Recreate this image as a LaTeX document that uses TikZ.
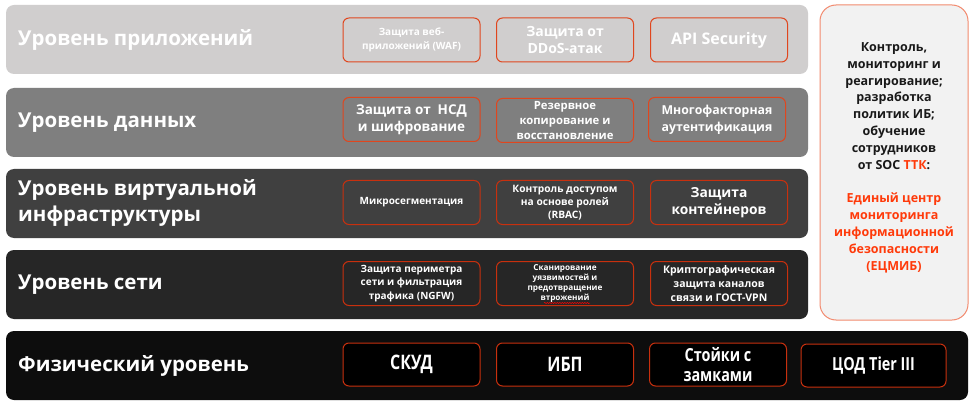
\documentclass[tikz,border=0pt]{standalone}
\usepackage{fontspec}
\setmainfont{Open Sans}
\newfontfamily\condfont{Open Sans}[FakeStretch=0.8]
\usetikzlibrary{decorations.pathmorphing}
\definecolor{bandA}{HTML}{D0CECE}
\definecolor{bandB}{HTML}{7F7F7F}
\definecolor{bandC}{HTML}{404040}
\definecolor{bandD}{HTML}{262626}
\definecolor{bandE}{HTML}{0D0D0D}
\definecolor{boxline}{HTML}{E0461E}
\definecolor{boxlineD}{HTML}{C8300E}
\definecolor{panelfill}{HTML}{F2F2F2}
\definecolor{panelline}{HTML}{F28A6E}
\definecolor{accent}{HTML}{FF3A0A}
\newcommand{\fs}[2]{\fontsize{#1}{#2}\selectfont\bfseries}
\tikzset{
  band/.style={rounded corners=8pt, inner sep=0pt, draw=none},
  title/.style={anchor=west, text=white, align=left, inner sep=0pt, font=\fs{20.5}{26}},
  sbox/.style={draw=boxline, line width=1pt, rounded corners=6pt, text=white, align=center,
    inner sep=0pt, minimum width=137pt, minimum height=44pt},
  dbox/.style={sbox, draw=boxlineD},
}
\begin{document}
\begin{tikzpicture}[x=1pt,y=-1pt]
\useasboundingbox (0,0) rectangle (974,406);
\fill[white] (0,0) rectangle (974,406);
% bands
\node[band, fill=bandA, minimum width=802pt, minimum height=69pt] (b1) at (407,39.5) {};
\node[band, fill=bandB, minimum width=802pt, minimum height=69pt] (b2) at (407,122.5) {};
\node[band, fill=bandC, minimum width=802pt, minimum height=69pt] (b3) at (407,203.5) {};
\node[band, fill=bandD, minimum width=802pt, minimum height=69pt] (b4) at (407,284.5) {};
\node[band, fill=bandE, minimum width=962pt, minimum height=69pt] (b5) at (487,365.5) {};
% titles
\node[title] (t1) at (18,40) {Уровень приложений};
\node[title] (t2) at (18,122.5) {Уровень данных};
\node[title] (t3) at (18,203) {Уровень виртуальной\\инфраструктуры};
\node[title] (t4) at (18,284.5) {Уровень сети};
\node[title] (t5) at (18,365.5) {Физический уровень};
% band 1
\node[sbox, font=\fs{10}{14}] (a1) at (411.5,40) {Защита веб-\\приложений (WAF)};
\node[sbox, font=\fs{14}{16.7}] (a2) at (565,40) {Защита от\\DDoS-атак};
\node[sbox, font=\fs{16}{18}] (a3) at (719,40) {API Security};
% band 2
\node[sbox, font=\fs{13.5}{16.7}] (d1) at (411.5,119.5) {Защита от\ \ НСД\\и шифрование};
\node[sbox, font=\fs{11.3}{14.8}] (d2) at (565,120.5) {Резервное\\копирование и\\восстановление};
\node[sbox, font=\fs{12.3}{16.7}] (d3) at (717,119.5) {Многофакторная\\аутентификация};
% band 3
\node[dbox, font=\fs{10}{12}] (v1) at (411.5,202.5) {Микросегментация};
\node[dbox, font=\fs{10.2}{13.3}] (v2) at (565,202.5) {Контроль доступом\\на основе ролей\\(RBAC)};
\node[dbox, font=\fs{13.8}{16.8}] (v3) at (719,202.5) {Защита\\контейнеров};
% band 4
\node[dbox, font=\fs{10}{13.8}] (n1) at (411.5,283.5) {Защита периметра\\сети и фильтрация\\трафика (NGFW)};
\node[dbox, font=\fs{8.2}{10.2}] (n2) at (565,283.5) {Сканирование\\уязвимостей и\\предотвращение\\втрожений};
\node[dbox, font=\fs{10.5}{13.8}] (n3) at (719,283.5) {Криптографическая\\защита каналов\\связи и ГОСТ-VPN};
\coordinate (w1) at (544,303);
\coordinate (w2) at (590,303);
\draw[red, line width=0.5pt, decorate, decoration={snake, amplitude=0.6pt, segment length=2.5pt}] (w1) -- (w2);
% band 5
\node[dbox, fill=black, minimum height=43pt, font=\condfont\fs{20}{22}] (p1) at (411.5,364.5) {СКУД};
\node[dbox, fill=black, minimum height=43pt, font=\condfont\fs{20}{22}] (p2) at (565,364.5) {ИБП};
\node[dbox, fill=black, minimum height=43pt, font=\condfont\fs{18}{19.5}] (p3) at (718,364.5) {Стойки с\\замками};
\node[dbox, fill=black, minimum height=43pt, minimum width=145pt, font=\condfont\fs{18}{20}] (p4) at (873.5,365.5) {ЦОД Tier III};
% right panel
\node[draw=panelline, fill=panelfill, line width=1pt, rounded corners=16pt,
  minimum width=148pt, minimum height=315pt, inner sep=0pt] (sp) at (894,162.5) {};
\node[align=center, inner sep=0pt, font=\fs{12.5}{16.8}, text=black!90] (st) at (894,106)
  {Контроль,\\мониторинг и\\реагирование;\\разработка\\политик ИБ;\\обучение\\сотрудников\\от SOC \textcolor{accent}{ТТК}:};
\node[align=center, inner sep=0pt, font=\fs{12.5}{16.8}, text=accent] (sr) at (894,233)
  {Единый центр\\мониторинга\\информационной\\безопасности\\(ЕЦМИБ)};
\end{tikzpicture}
\end{document}
